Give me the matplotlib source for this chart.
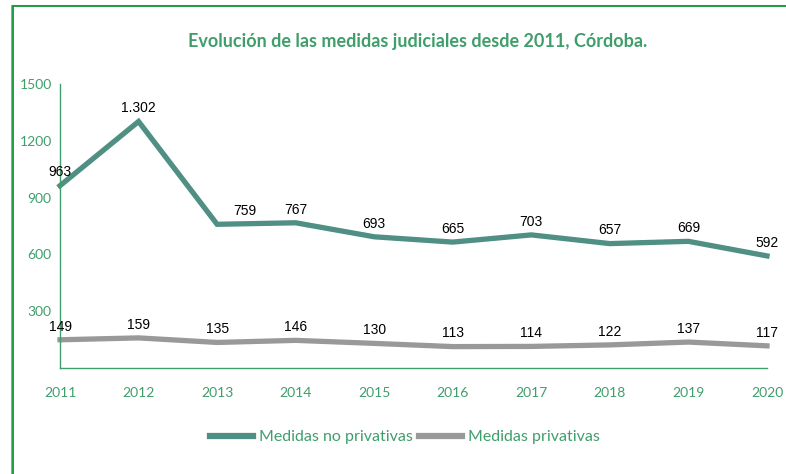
import matplotlib
matplotlib.use("Agg")
import matplotlib.pyplot as plt
from matplotlib.patches import Rectangle

# === datos ===
anios = [2011, 2012, 2013, 2014, 2015, 2016, 2017, 2018, 2019, 2020]
no_privativas = [963, 1302, 759, 767, 693, 665, 703, 657, 669, 592]
privativas = [149, 159, 135, 146, 130, 113, 114, 122, 137, 117]
etiquetas_no_priv = ["963", "1.302", "759", "767", "693", "665", "703", "657", "669", "592"]
y_ticks = [300, 600, 900, 1200, 1500]

titulo = "Evolución de las medidas judiciales desde 2011, Córdoba."
verde = "#3f9e6b"
teal = "#4f8f84"
gris = "#999999"

fig = plt.figure(figsize=(7.86, 4.74), dpi=100)
ax = fig.add_axes([60 / 786, 1 - 368 / 474, 707 / 786, 284 / 474])

# borde del gráfico
fig.patches.append(Rectangle((11 / 786, -0.1), 1.2, 1 - 4.5 / 474 + 0.1, transform=fig.transFigure,
                             fill=False, edgecolor="#8fa6c8", linewidth=0.8))
fig.patches.append(Rectangle((12.5 / 786, -0.1), 1.2, 1 - 6 / 474 + 0.1, transform=fig.transFigure,
                             fill=False, edgecolor="#1f9a3c", linewidth=1.4))

ax.plot(anios, no_privativas, color=teal, linewidth=3.8, solid_joinstyle="miter",
        label="Medidas no privativas", clip_on=False)
ax.plot(anios, privativas, color=gris, linewidth=3.8,
        label="Medidas privativas", clip_on=False)

# etiquetas de datos
for i, (x, y) in enumerate(zip(anios, no_privativas)):
    dx = 20 if i == 2 else 0
    ax.annotate(etiquetas_no_priv[i], (x, y), xytext=(dx, 9.5), textcoords="offset points",
                ha="center", va="center", fontsize=10, family="Liberation Sans", color="black")
for x, y in zip(anios, privativas):
    ax.annotate(str(y), (x, y), xytext=(0, 9.5), textcoords="offset points",
                ha="center", va="center", fontsize=10, family="Liberation Sans", color="black")

ax.set_xlim(2011, 2020)
ax.set_ylim(0, 1500)
ax.set_xticks(anios)
ax.set_yticks(y_ticks)
ax.tick_params(length=0, colors=verde, labelsize=10, labelfontfamily="Lato")
ax.tick_params(axis="x", pad=14)
ax.tick_params(axis="y", pad=6)
for s in ["top", "right"]:
    ax.spines[s].set_visible(False)
for s in ["left", "bottom"]:
    ax.spines[s].set_color(verde)
    ax.spines[s].set_linewidth(1.0)

fig.text(418 / 786, 1 - 41 / 474, titulo, ha="center", va="center", fontsize=13,
         fontweight="bold", family="Lato", color=verde)

leg = fig.legend(loc="center", bbox_to_anchor=(405 / 786, 1 - 437 / 474), ncol=2, frameon=False,
                 prop={"family": "Lato", "size": 11.5}, handlelength=2.7, handletextpad=0.4,
                 columnspacing=0.35)
for t in leg.get_texts():
    t.set_color(verde)
for h in leg.get_lines():
    h.set_linewidth(4.5)

fig.savefig("out.png", dpi=100)
